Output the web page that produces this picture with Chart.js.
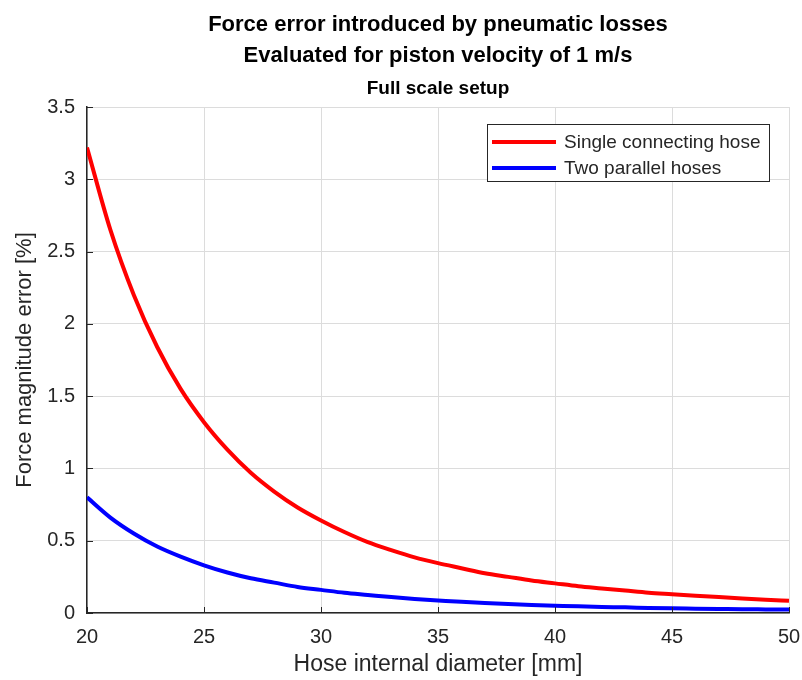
<!DOCTYPE html>
<html>
<head>
<meta charset="utf-8">
<script src="https://cdn.jsdelivr.net/npm/chart.js@4.4.1/dist/chart.umd.min.js"></script>
<style>
html, body { margin: 0; padding: 0; background: #fff; }
#wrap { width: 802px; height: 680px; }
</style>
</head>
<body>
<div id="wrap"><canvas id="chart"></canvas></div>
<script>
// ==================== DATA ====================
const DIAMETERS = [20, 21, 22, 23, 24, 25, 26, 27, 28, 29, 30, 31, 32, 33, 34, 35,
                   36, 37, 38, 39, 40, 41, 42, 43, 44, 45, 46, 47, 48, 49, 50];
const SINGLE_HOSE = [3.22, 2.65, 2.20, 1.84, 1.55, 1.32, 1.13, 0.97, 0.84, 0.73, 0.64,
                     0.56, 0.49, 0.435, 0.385, 0.345, 0.31, 0.275, 0.25, 0.225, 0.205,
                     0.185, 0.17, 0.155, 0.14, 0.13, 0.12, 0.11, 0.10, 0.092, 0.085];
const PARALLEL_HOSES = [0.80, 0.66, 0.55, 0.46, 0.39, 0.33, 0.28, 0.24, 0.21, 0.18, 0.16,
                        0.14, 0.125, 0.11, 0.097, 0.087, 0.077, 0.069, 0.062, 0.056, 0.051,
                        0.046, 0.042, 0.039, 0.035, 0.032, 0.030, 0.028, 0.026, 0.025, 0.024];
const SERIES_LABELS = ['Single connecting hose', 'Two parallel hoses'];
const TITLE_LINES = ['Force error introduced by pneumatic losses', 'Evaluated for piston velocity of 1 m/s'];
const SUBTITLE = 'Full scale setup';
const X_LABEL = 'Hose internal diameter [mm]';
const Y_LABEL = 'Force magnitude error [%]';

const FONT = '"Liberation Sans", Arial, Helvetica, sans-serif';
const INK = '#262626';

// MATLAB-ish inward tick marks
const inwardTicks = {
  id: 'inwardTicks',
  afterDraw(chart) {
    const { ctx, chartArea, scales } = chart;
    ctx.save();
    ctx.strokeStyle = INK;
    ctx.lineWidth = 1;
    scales.y.ticks.forEach(t => {
      const py = Math.round(scales.y.getPixelForValue(t.value)) + 0.5;
      ctx.beginPath(); ctx.moveTo(chartArea.left, py); ctx.lineTo(chartArea.left + 6, py); ctx.stroke();
    });
    scales.x.ticks.forEach(t => {
      const px = Math.round(scales.x.getPixelForValue(t.value)) + 0.5;
      ctx.beginPath(); ctx.moveTo(px, chartArea.bottom); ctx.lineTo(px, chartArea.bottom - 6); ctx.stroke();
    });
    ctx.restore();
  }
};

// legend box inside the plot, top right
const boxLegend = {
  id: 'boxLegend',
  afterDraw(chart) {
    const { ctx, chartArea } = chart;
    const sets = chart.data.datasets;
    ctx.save();
    ctx.font = '19px ' + FONT;
    const textW = Math.max(...sets.map(d => ctx.measureText(d.label).width));
    const w = Math.round(textW + 86), h = 57;
    const x = Math.round(chartArea.right - 20 - w), y = Math.round(chartArea.top + 17);
    ctx.fillStyle = '#fff';
    ctx.fillRect(x, y, w, h);
    ctx.strokeStyle = INK;
    ctx.lineWidth = 1;
    ctx.strokeRect(x + 0.5, y + 0.5, w, h);
    sets.forEach((d, i) => {
      const cy = y + 18 + i * 26;
      ctx.strokeStyle = d.borderColor;
      ctx.lineWidth = 4;
      ctx.beginPath(); ctx.moveTo(x + 5, cy); ctx.lineTo(x + 69, cy); ctx.stroke();
      ctx.fillStyle = INK;
      ctx.textBaseline = 'middle';
      ctx.textAlign = 'left';
      ctx.fillText(d.label, x + 77, cy + 1);
    });
    ctx.restore();
  }
};

const toPoints = ys => DIAMETERS.map((d, i) => ({ x: d, y: ys[i] }));

new Chart(document.getElementById('chart'), {
  type: 'line',
  data: {
    datasets: [
      {
        label: SERIES_LABELS[0],
        data: toPoints(SINGLE_HOSE),
        borderColor: '#ff0000',
        borderWidth: 4,
        pointRadius: 0,
        cubicInterpolationMode: 'monotone',
        fill: false
      },
      {
        label: SERIES_LABELS[1],
        data: toPoints(PARALLEL_HOSES),
        borderColor: '#0000ff',
        borderWidth: 4,
        pointRadius: 0,
        cubicInterpolationMode: 'monotone',
        fill: false
      }
    ]
  },
  options: {
    responsive: true,
    maintainAspectRatio: false,
    animation: false,
    layout: { padding: 0 },
    plugins: {
      legend: { display: false },
      tooltip: { enabled: false },
      title: {
        display: true,
        text: TITLE_LINES,
        fullSize: false,
        color: '#000',
        font: { family: FONT, size: 22, weight: 'bold', lineHeight: 1.41 },
        padding: { top: 9.5, bottom: 0 }
      },
      subtitle: {
        display: true,
        text: SUBTITLE,
        fullSize: false,
        color: '#000',
        font: { family: FONT, size: 19, weight: 'bold', lineHeight: 1.2 },
        padding: { top: 6, bottom: 6.7 }
      }
    },
    scales: {
      x: {
        type: 'linear',
        min: 20,
        max: 50,
        afterFit: s => { s.height = 67; s.paddingRight = 13; },
        ticks: { stepSize: 5, color: INK, padding: 12, font: { family: FONT, size: 20 } },
        grid: { color: '#dcdcdc', lineWidth: 1, drawTicks: false },
        border: { color: INK, width: 1.5 },
        title: {
          display: true,
          text: X_LABEL,
          color: INK,
          font: { family: FONT, size: 23 },
          padding: { top: 0, bottom: 1.2 }
        }
      },
      y: {
        min: 0,
        max: 3.5,
        afterFit: s => { s.width = 87; },
        ticks: {
          stepSize: 0.5,
          color: INK,
          padding: 12,
          font: { family: FONT, size: 20 },
          callback: v => String(v)
        },
        grid: { color: '#dcdcdc', lineWidth: 1, drawTicks: false },
        border: { color: INK, width: 1.5 },
        title: {
          display: true,
          text: Y_LABEL,
          color: INK,
          font: { family: FONT, size: 22 },
          padding: { top: 11.8, bottom: 4 }
        }
      }
    }
  },
  plugins: [inwardTicks, boxLegend]
});
</script>
</body>
</html>
